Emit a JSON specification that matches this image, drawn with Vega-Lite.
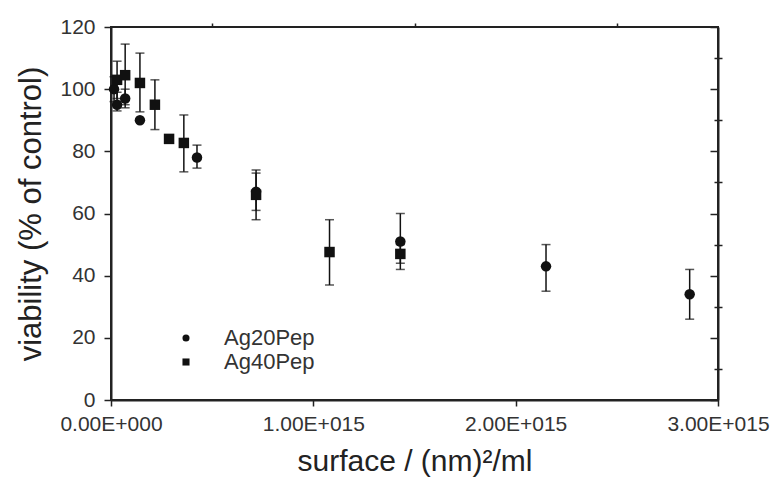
{
  "$schema": "https://vega.github.io/schema/vega-lite/v6.json",
  "width": 607,
  "height": 373,
  "autosize": {"type": "none"},
  "padding": {"left": 111, "top": 27, "right": 62, "bottom": 82},
  "background": "white",
  "config": {
    "font": "Liberation Sans",
    "view": {"stroke": "#222", "strokeWidth": 2},
    "axis": {"grid": false, "domainColor": "#222", "domainWidth": 2, "tickColor": "#222", "tickWidth": 1.5, "labelColor": "#333", "labelFontSize": 21, "titleColor": "#222", "titleFontWeight": "normal"}
  },
  "data": {"values": [
    {"series": "Ag20Pep", "x": 1.5e13, "y": 100, "lo": 96, "hi": 104},
    {"series": "Ag20Pep", "x": 3e13, "y": 95, "lo": 93, "hi": 99},
    {"series": "Ag20Pep", "x": 7e13, "y": 97, "lo": 94, "hi": 100},
    {"series": "Ag20Pep", "x": 1.43e14, "y": 90},
    {"series": "Ag20Pep", "x": 4.25e14, "y": 78, "lo": 74.6, "hi": 82},
    {"series": "Ag20Pep", "x": 7.17e14, "y": 67, "lo": 61, "hi": 73},
    {"series": "Ag20Pep", "x": 1.43e15, "y": 51, "lo": 42, "hi": 60},
    {"series": "Ag20Pep", "x": 2.15e15, "y": 43, "lo": 35, "hi": 50},
    {"series": "Ag20Pep", "x": 2.86e15, "y": 34, "lo": 26, "hi": 42},
    {"series": "Ag40Pep", "x": 3e13, "y": 103, "lo": 97, "hi": 109},
    {"series": "Ag40Pep", "x": 7e13, "y": 104.5, "lo": 95, "hi": 114.5},
    {"series": "Ag40Pep", "x": 1.43e14, "y": 102, "lo": 92.7, "hi": 111.6},
    {"series": "Ag40Pep", "x": 2.17e14, "y": 95, "lo": 87, "hi": 103},
    {"series": "Ag40Pep", "x": 2.87e14, "y": 84},
    {"series": "Ag40Pep", "x": 3.6e14, "y": 82.7, "lo": 73.4, "hi": 91.7},
    {"series": "Ag40Pep", "x": 7.17e14, "y": 66, "lo": 58, "hi": 74},
    {"series": "Ag40Pep", "x": 1.08e15, "y": 47.6, "lo": 37, "hi": 58},
    {"series": "Ag40Pep", "x": 1.43e15, "y": 47, "lo": 44, "hi": 50}
  ]},
  "resolve": {"axis": {"x": "independent", "y": "independent"}},
  "layer": [
    {
      "mark": {"type": "rule", "color": "#111", "strokeWidth": 1.5},
      "encoding": {
        "x": {"field": "x", "type": "quantitative", "scale": {"domain": [0, 3e15], "nice": false, "zero": true},
          "axis": {"values": [0, 1e15, 2e15, 3e15], "tickSize": 6, "labelPadding": 7, "labelExpr": "datum.value == 0 ? '0.00E+000' : format(datum.value/1e15, '.2f') + 'E+015'", "title": "surface / (nm)²/ml", "titleFontSize": 30, "titlePadding": 12, "labelFlush": false}},
        "y": {"field": "lo", "type": "quantitative", "scale": {"domain": [0, 120], "nice": false},
          "axis": {"values": [0, 20, 40, 60, 80, 100, 120], "tickSize": 7, "labelPadding": 9, "title": "viability (% of control)", "titleFontSize": 31, "titlePadding": 12}},
        "y2": {"field": "hi"}
      }
    },
    {
      "mark": {"type": "tick", "orient": "horizontal", "color": "#111", "thickness": 1.5, "size": 9},
      "encoding": {
        "x": {"field": "x", "type": "quantitative", "axis": {"values": [5e14, 1.5e15, 2.5e15], "labels": false, "tickSize": 4, "title": null, "domain": false}},
        "y": {"field": "lo", "type": "quantitative", "axis": {"values": [10, 30, 50, 70, 90, 110], "labels": false, "tickSize": 4, "title": null, "domain": false}}
      }
    },
    {
      "mark": {"type": "tick", "orient": "horizontal", "color": "#111", "thickness": 1.5, "size": 9},
      "encoding": {
        "x": {"field": "x", "type": "quantitative", "axis": null},
        "y": {"field": "hi", "type": "quantitative", "axis": {"orient": "right", "values": [0, 20, 40, 60, 80, 100, 120], "labels": false, "tickSize": -8, "title": null}}
      }
    },
    {
      "mark": {"type": "point", "filled": true, "opacity": 1, "color": "#111"},
      "encoding": {
        "x": {"field": "x", "type": "quantitative", "axis": null},
        "y": {"field": "y", "type": "quantitative", "axis": {"orient": "right", "values": [10, 30, 50, 70, 90, 110], "labels": false, "tickSize": -4, "title": null, "domain": false}},
        "shape": {"field": "series", "type": "nominal", "scale": {"domain": ["Ag20Pep", "Ag40Pep"], "range": ["circle", "square"]},
          "legend": {"orient": "none", "legendX": 64, "legendY": 300, "title": null, "labelFontSize": 22, "labelColor": "#333", "symbolSize": 50, "symbolFillColor": "#111", "symbolStrokeColor": "#111", "labelOffset": 27, "rowPadding": 2}},
        "size": {"value": 110}
      }
    }
  ]
}
